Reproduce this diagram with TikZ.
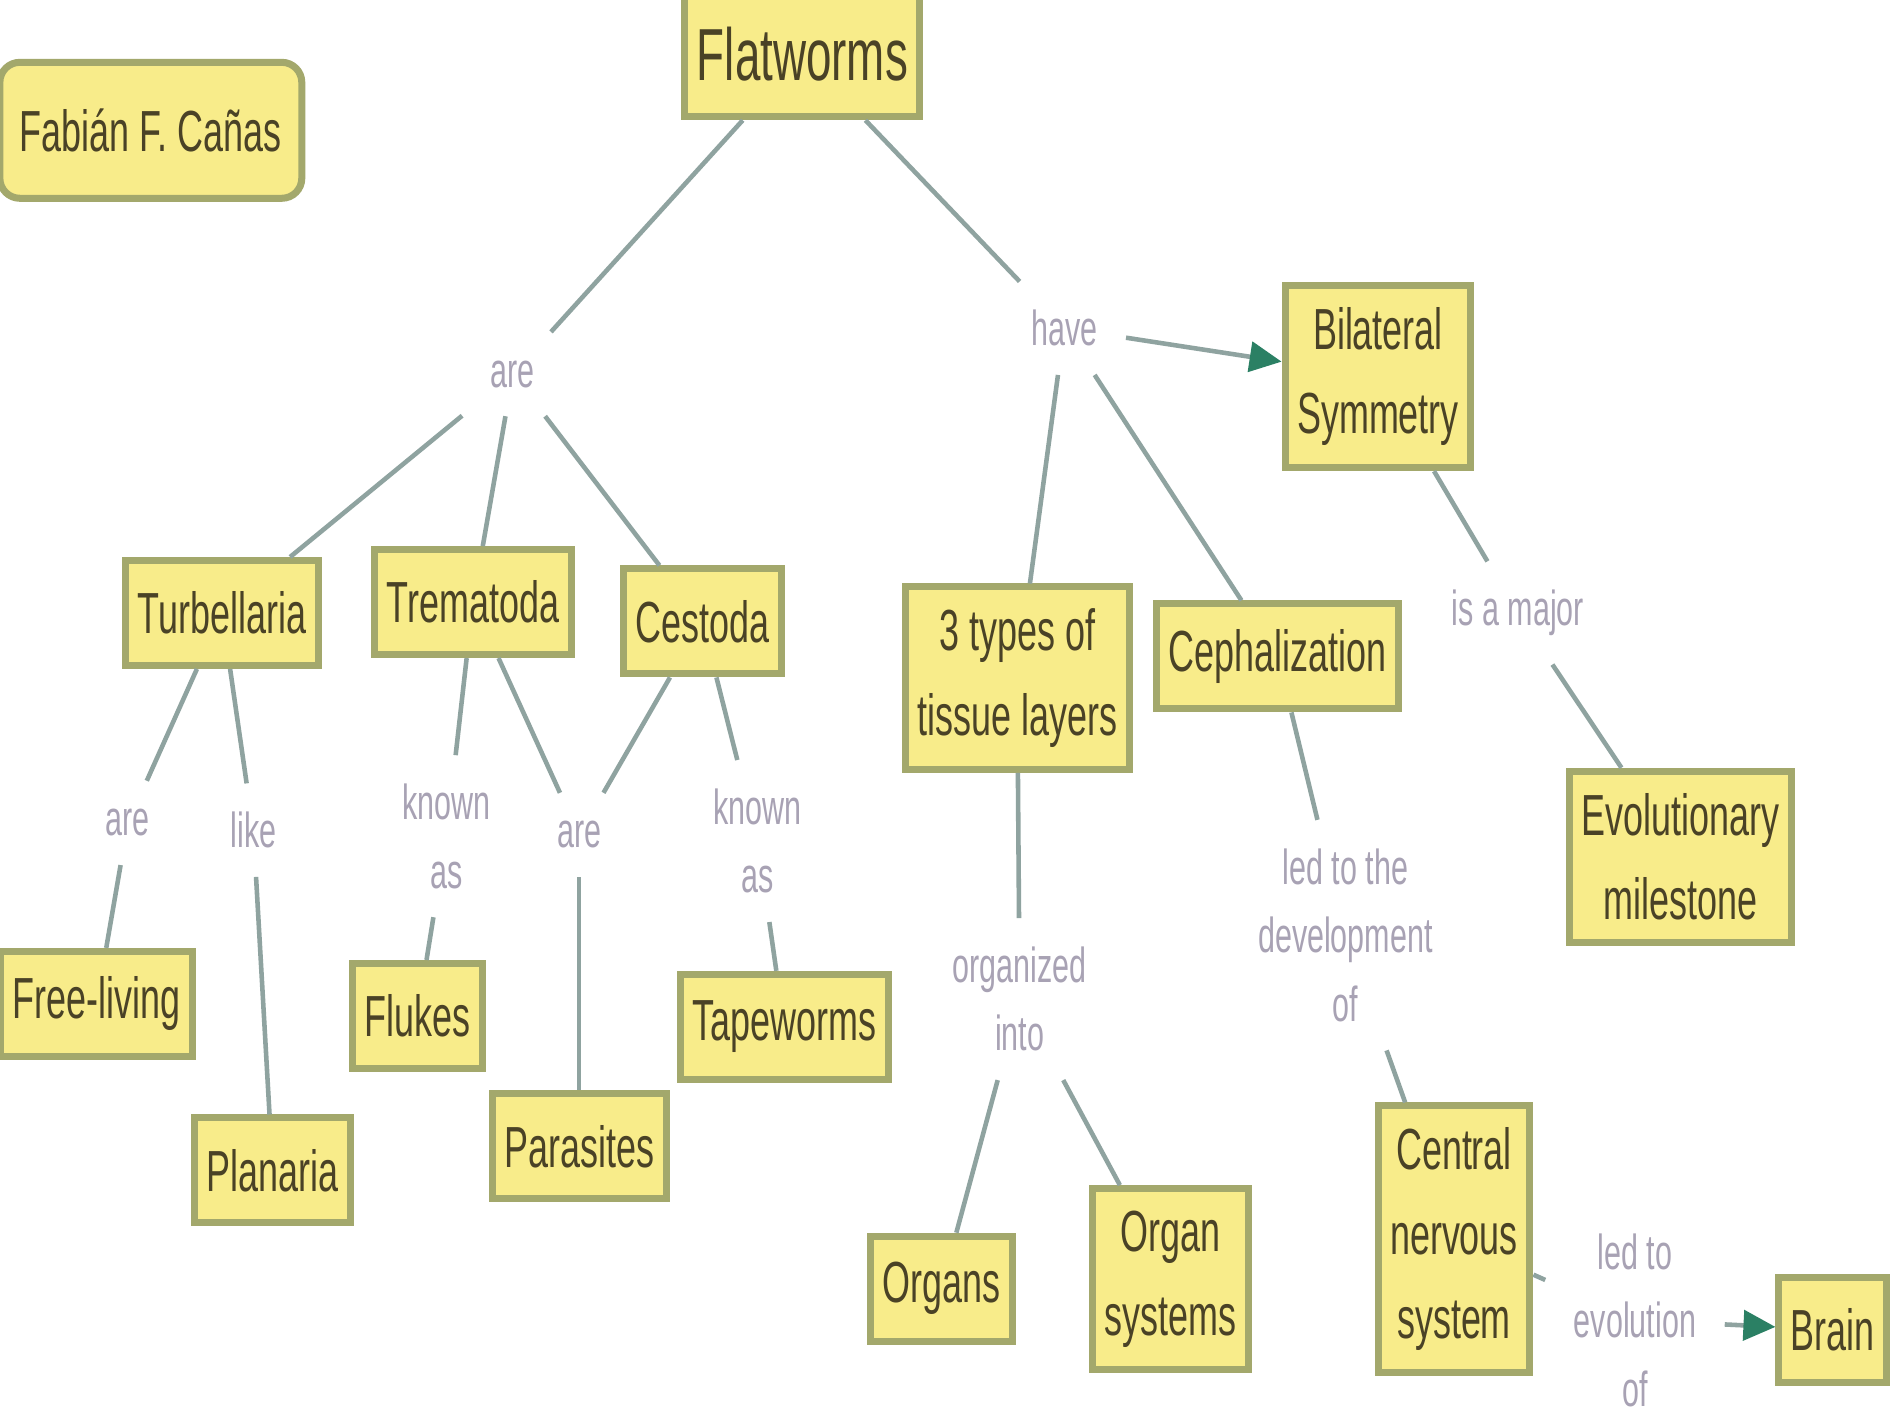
\documentclass[tikz,border=0pt]{standalone}
\usepackage{fontspec}
\setmainfont[FakeStretch=0.62]{Liberation Sans}
\usetikzlibrary{arrows.meta}

\definecolor{boxfill}{HTML}{F8EC8A}
\definecolor{boxline}{HTML}{A3A86C}
\definecolor{boxtext}{HTML}{4A4226}
\definecolor{linktext}{HTML}{A8A2B4}
\definecolor{linkline}{HTML}{8FA3A0}
\definecolor{tipgreen}{HTML}{2B8064}

\tikzset{
  concept/.style={draw=boxline, line width=2pt, fill=boxfill, text=boxtext, align=center,
    font=\fontsize{16.5}{24}\selectfont, inner xsep=0.12cm, inner ysep=0.22cm, minimum height=1.05cm},
  linkword/.style={text=linktext, align=center, font=\fontsize{14}{19.5}\selectfont, inner sep=0.28cm},
  link/.style={draw=linkline, line width=1.3pt},
  leadsto/.style={-{Triangle[length=0.32cm,width=0.3cm,color=tipgreen]}}
}

\begin{document}
\begin{tikzpicture}[x=0.012066cm, y=-0.012066cm]
  \path[use as bounding box, fill=white] (0,0) rectangle (1568,1175);

  % concepts
  \node[concept, rounded corners=0.2cm, minimum width=3.02cm, minimum height=1.36cm] (author) at (125,108) {Fabián F. Cañas};
  \node[concept, font=\fontsize{21}{26}\selectfont, minimum height=1.25cm] (flat) at (665,45) {Flatworms};
  \node[concept] (bilat) at (1142,312) {Bilateral\\Symmetry};
  \node[concept] (turb) at (184,508) {Turbellaria};
  \node[concept] (trem) at (392,499) {Trematoda};
  \node[concept] (cest) at (582,515) {Cestoda};
  \node[concept] (tissue) at (843,562) {3 types of\\tissue layers};
  \node[concept] (ceph) at (1059,544) {Cephalization};
  \node[concept] (evol) at (1393,710) {Evolutionary\\milestone};
  \node[concept] (free) at (80,832) {Free-living};
  \node[concept] (flukes) at (346,842) {Flukes};
  \node[concept] (tape) at (650,851) {Tapeworms};
  \node[concept] (plan) at (226,970) {Planaria};
  \node[concept] (para) at (480,950) {Parasites};
  \node[concept] (organs) at (780,1068) {Organs};
  \node[concept] (orgsys) at (970,1060) {Organ\\systems};
  \node[concept] (cns) at (1205,1027) {Central\\nervous\\system};
  \node[concept] (brain) at (1519,1102) {Brain};

  % linking words
  \node[linkword] (are) at (425,310) {are};
  \node[linkword] (have) at (882,272) {have};
  \node[linkword] (major) at (1258,508) {is a major};
  \node[linkword] (areturb) at (106,682) {are};
  \node[linkword] (like) at (210,688) {like};
  \node[linkword] (knowntrem) at (370,693) {known\\as};
  \node[linkword] (arepara) at (480,692) {are};
  \node[linkword] (knowncest) at (628,697) {known\\as};
  \node[linkword] (organized) at (845,828) {organized\\into};
  \node[linkword] (ledto) at (1115,775) {led to the\\development\\of};
  \node[linkword] (evolof) at (1355,1094) {led to\\evolution\\of};

  % connectors
  \draw[link] (flat) -- (are);
  \draw[link] (flat) -- (have);
  \draw[link] (are) -- (turb);
  \draw[link] (are) -- (trem);
  \draw[link] (are) -- (cest);
  \draw[link, leadsto] (have) -- (bilat);
  \draw[link] (have) -- (tissue);
  \draw[link] (have) -- (ceph);
  \draw[link] (bilat) -- (major);
  \draw[link] (major) -- (evol);
  \draw[link] (turb) -- (areturb);
  \draw[link] (areturb) -- (free);
  \draw[link] (turb) -- (like);
  \draw[link] (like) -- (plan);
  \draw[link] (trem) -- (knowntrem);
  \draw[link] (knowntrem) -- (flukes);
  \draw[link] (trem) -- (arepara);
  \draw[link] (cest) -- (arepara);
  \draw[link] (arepara) -- (para);
  \draw[link] (cest) -- (knowncest);
  \draw[link] (knowncest) -- (tape);
  \draw[link] (tissue) -- (organized);
  \draw[link] (organized) -- (organs);
  \draw[link] (organized) -- (orgsys);
  \draw[link] (ceph) -- (ledto);
  \draw[link] (ledto) -- (cns);
  \draw[link] (cns) -- (evolof);
  \draw[link, leadsto] (evolof) -- (brain);
\end{tikzpicture}
\end{document}
